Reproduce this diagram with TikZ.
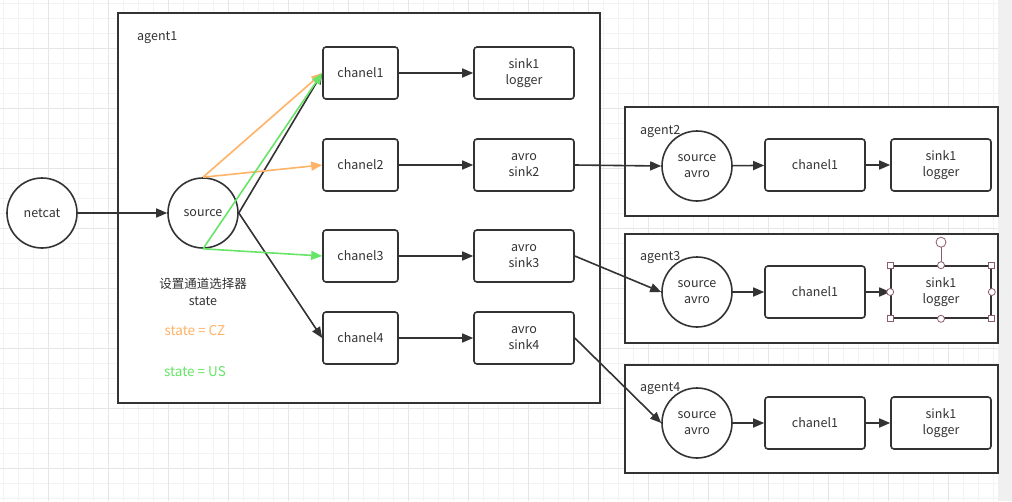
\documentclass[tikz,border=0pt]{standalone}
\usepackage{fontspec}
\setmainfont{Noto Sans CJK SC}
\usetikzlibrary{arrows.meta,calc}
\definecolor{ink}{HTML}{333333}
\definecolor{selorange}{HTML}{FFB366}
\definecolor{selgreen}{HTML}{66E566}
\definecolor{gridminor}{HTML}{F3F3F3}
\definecolor{gridmajor}{HTML}{E6E6E6}
\definecolor{handle}{HTML}{8C5A6E}
\definecolor{sidebar}{HTML}{F0F0F0}

\begin{document}
\begin{tikzpicture}[x=1pt,y=-1pt,
  font=\fontsize{12.5}{16.5}\selectfont,
  every node/.style={text=ink},
  agentbox/.style={draw=ink, line width=2.1pt, fill=white},
  agentlabel/.style={anchor=west, inner sep=0pt},
  chanbox/.style={draw=ink, line width=1.6pt, rounded corners=3pt, fill=white,
    minimum width=75pt, minimum height=52pt, inner sep=0pt, align=center},
  sinkbox/.style={chanbox, minimum width=100pt},
  proc/.style={draw=ink, line width=1.6pt, circle, minimum size=70pt,
    inner sep=0pt, fill=white, align=center},
  flow/.style={draw=ink, line width=1.6pt, -{Triangle[length=11pt,width=9pt]}},
  flowcz/.style={flow, draw=selorange, -{Triangle[length=11pt,width=9pt,color=selorange]}},
  flowus/.style={flow, draw=selgreen, -{Triangle[length=11pt,width=9pt,color=selgreen]}},
  statelabel/.style={font=\fontsize{13.5}{16}\selectfont},
  handlesq/.style={draw=handle, fill=white, line width=0.8pt, minimum size=6pt, inner sep=0pt},
  handleci/.style={handlesq, circle, minimum size=7pt}
]
\useasboundingbox (0,0) rectangle (1012,501);

% background grid
\fill[white] (0,0) rectangle (998,501);
\foreach \g in {3,18,...,998} \draw[gridminor, line width=0.7pt] (\g,0) -- (\g,501);
\foreach \g in {3,18,...,501} \draw[gridminor, line width=0.7pt] (0,\g) -- (998,\g);
\foreach \g in {48,108,...,998} \draw[gridmajor, line width=0.9pt] (\g,0) -- (\g,501);
\foreach \g in {48,108,...,501} \draw[gridmajor, line width=0.9pt] (0,\g) -- (998,\g);
\fill[sidebar] (998,0) rectangle (1012,501);

% agent frames
\draw[agentbox] (118,13) rectangle (600,403);
\draw[agentbox] (625,107) rectangle (998,216);
\draw[agentbox] (625,234) rectangle (998,343);
\draw[agentbox] (625,365) rectangle (998,473);

\node[agentlabel] (lab1) at (137,38) {agent1};
\node[agentlabel] (lab2) at (640,132) {agent2};
\node[agentlabel] (lab3) at (640,258) {agent3};
\node[agentlabel] (lab4) at (640,389) {agent4};

% agent1
\node[proc] (netcat) at (42,213) {netcat};
\node[proc] (source) at (203,213) {source};
\node[chanbox] (c1) at (360.5,73) {chanel1};
\node[chanbox] (c2) at (360.5,165) {chanel2};
\node[chanbox] (c3) at (360.5,256) {chanel3};
\node[chanbox] (c4) at (360.5,338) {chanel4};
\node[sinkbox] (s1) at (524,73) {sink1\\logger};
\node[sinkbox] (s2) at (524,165) {avro\\sink2};
\node[sinkbox] (s3) at (524,256) {avro\\sink3};
\node[sinkbox] (s4) at (524,338) {avro\\sink4};

\node (selnote) at (203,292) [align=center] {设置通道选择器\\state};
\node[statelabel, text=selorange] (cz) at (195,331) {state = CZ};
\node[statelabel, text=selgreen] (us) at (195,372) {state = US};

% agent2..agent4
\node[proc] (a2src) at (697,166) {source\\avro};
\node[sinkbox] (a2ch) at (815,165) {chanel1};
\node[sinkbox] (a2sk) at (941,165) {sink1\\logger};
\node[proc] (a3src) at (697,292) {source\\avro};
\node[sinkbox] (a3ch) at (815,292) {chanel1};
\node[sinkbox] (a3sk) at (941,292) {sink1\\logger};
\node[proc] (a4src) at (697,423) {source\\avro};
\node[sinkbox] (a4ch) at (815,423) {chanel1};
\node[sinkbox] (a4sk) at (941,423) {sink1\\logger};

% connectors
\draw[flow] (netcat) -- (source);
\draw[flow] (source.east) -- (c1.west);
\draw[flow] (source.east) -- (c4.west);
\draw[flowcz] (source.north) -- (c1.west);
\draw[flowcz] (source.north) -- (c2.west);
\draw[flowus] (source.south) -- (c1.west);
\draw[flowus] (source.south) -- (c3.west);
\draw[flow] (c1) -- (s1);
\draw[flow] (c2) -- (s2);
\draw[flow] (c3) -- (s3);
\draw[flow] (c4) -- (s4);
\draw[flow] (s2.east) -- (a2src.west);
\draw[flow] (s3.east) -- (a3src.west);
\draw[flow] (s4.east) -- (a4src.west);
\draw[flow] (a2src) -- (a2ch);
\draw[flow] (a2ch) -- (a2sk);
\draw[flow] (a3src) -- (a3ch);
\draw[flow] (a3ch) -- (a3sk);
\draw[flow] (a4src) -- (a4ch);
\draw[flow] (a4ch) -- (a4sk);

% selection handles on the agent3 logger
\coordinate (rot) at ($(a3sk.north)+(0,-23)$);
\draw[handle, line width=0.8pt] (a3sk.north) -- (rot);
\node[handleci, minimum size=10pt] (hrot) at (rot) {};
\foreach \a in {north west, north east, south west, south east}
  \node[handlesq] at (a3sk.\a) {};
\foreach \a in {north, south, east, west}
  \node[handleci] at (a3sk.\a) {};
\end{tikzpicture}
\end{document}
